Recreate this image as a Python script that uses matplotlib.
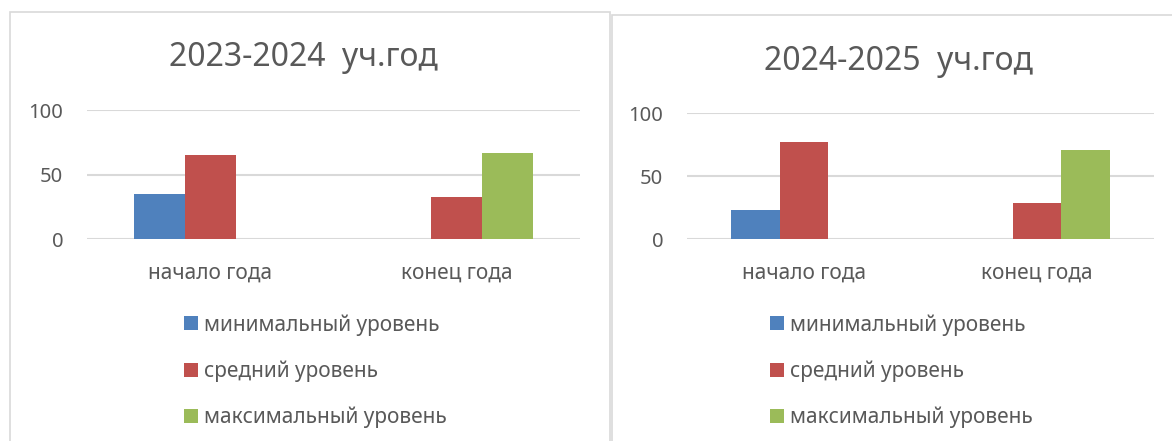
import numpy as np
import matplotlib
matplotlib.use("Agg")
import matplotlib.pyplot as plt
from matplotlib.patches import Rectangle, Patch

# данные
categories = ["начало года", "конец года"]
series_names = ["минимальный уровень", "средний уровень", "максимальный уровень"]
colors = ["#4F81BD", "#C0504D", "#9BBB59"]

titles = ["2023-2024  уч.год", "2024-2025  уч.год"]
min_2324 = [35, 0]
mid_2324 = [65, 33]
max_2324 = [0, 67]
min_2425 = [23, 0]
mid_2425 = [77, 29]
max_2425 = [0, 71]

plt.rcParams["font.family"] = ["Noto Sans", "DejaVu Sans"]
TXT = "#595959"
GRID = "#D9D9D9"

W, H = 1172, 441
fig = plt.figure(figsize=(W / 100, H / 100), dpi=100)


def box(x0, y0, x1, y1):
    return [x0 / W, 1 - y1 / H, (x1 - x0) / W, (y1 - y0) / H]


# рамки диаграмм
fig.add_artist(Rectangle((10 / W, -0.1), 600 / W, 1.1 - 12 / H, transform=fig.transFigure,
                         fill=False, edgecolor=GRID, lw=1.2))
fig.add_artist(Rectangle((612 / W, -0.1), 600 / W, 1.1 - 14.5 / H, transform=fig.transFigure,
                         fill=False, edgecolor=GRID, lw=1.2))

panels = [
    dict(rect=box(87, 110, 580, 239.3), title_xy=(303, 58), leg_xy=(184, 314),
         data=[min_2324, mid_2324, max_2324], title=titles[0]),
    dict(rect=box(687, 113.3, 1154, 239.3), title_xy=(898, 62), leg_xy=(770, 314),
         data=[min_2425, mid_2425, max_2425], title=titles[1]),
]

w = 0.207
x = np.arange(len(categories))
for p in panels:
    ax = fig.add_axes(p["rect"])
    for i, (vals, c) in enumerate(zip(p["data"], colors)):
        ax.bar(x + (i - 1) * w, vals, width=w, color=c, zorder=3)
    ax.set_xlim(-0.5, 1.5)
    ax.set_ylim(0, 100)
    ax.set_yticks([0, 50, 100])
    for yv in [0, 50, 100]:
        ax.axhline(yv, color=GRID, lw=1.5, zorder=1)
    for s in ax.spines.values():
        s.set_visible(False)
    ax.set_xticks(x)
    ax.set_xticklabels(categories)
    ax.tick_params(axis="y", length=0, pad=17, labelsize=14.5, labelcolor=TXT)
    ax.tick_params(axis="x", length=0, pad=17, labelsize=15, labelcolor=TXT)
    fig.text(p["title_xy"][0] / W, 1 - p["title_xy"][1] / H, p["title"],
             ha="center", va="center", fontsize=23, color=TXT)
    handles = [Patch(facecolor=c, edgecolor="none") for c in colors]
    fig.legend(handles, series_names, loc="upper left",
               bbox_to_anchor=(p["leg_xy"][0] / W, 1 - p["leg_xy"][1] / H),
               frameon=False, fontsize=15, labelcolor=TXT, borderpad=0, borderaxespad=0,
               handlelength=0.67, handleheight=0.67, handletextpad=0.3, labelspacing=1.2)

fig.savefig("out.png", dpi=100)
